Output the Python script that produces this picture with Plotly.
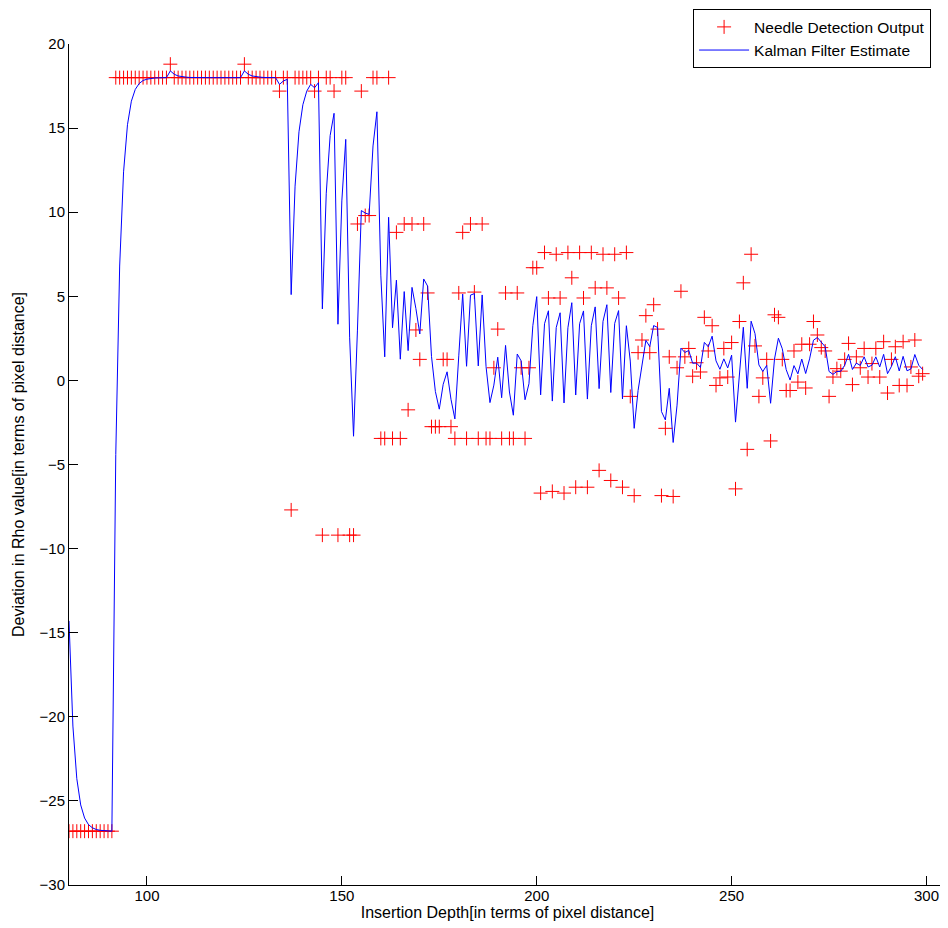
import plotly.graph_objects as go

# Insertion depth (pixel distance), one sample per integer step
depth = list(range(80, 300))

# Needle detection output (measurements)
needle = [
    -26.8, -26.8, -26.8, -26.8, -26.8, -26.8, -26.8, -26.8, -26.8, -26.8, -26.8, -26.8,  # 80-91
    18, 18, 18, 18, 18, 18, 18, 18, 18, 18, 18, 18, 18, 18,  # 92-105
    18.8,  # 106
    18, 18, 18, 18, 18, 18, 18, 18, 18, 18, 18, 18, 18, 18, 18, 18, 18, 18,  # 107-124
    18.8,  # 125
    18, 18, 18, 18, 18, 18, 18, 18,  # 126-133
    17.2, 18, 18, -7.7, 18, 18, 18, 18, 18, 17.2,  # 134-143
    18, -9.2, 18, 18, 17.2, -9.2, 18, 18, -9.2, -9.2,  # 144-153
    9.3, 17.2, 9.8, 9.8, 18, 18, -3.45, -3.45, 18, -3.45,  # 154-163
    8.8, -3.45, 9.3, -1.75, 9.3, 3.0, 1.25, 9.3, 5.2, -2.75,  # 164-173
    -2.75, -2.75, 1.25, 1.25, -2.75, -3.45, 5.2, 8.8, -3.45, 9.3,  # 174-183
    5.25, -3.45, 9.3, -3.45, -3.45, 0.75, 3.05, -3.45, 5.2, -3.45,  # 184-193
    -3.45, 5.2, 0.75, -3.45, 0.75, 6.7, 6.7, -6.7, 7.6, 4.9,  # 194-203
    -6.6, 7.5, 4.9, -6.7, 7.6, 6.1, -6.35, 7.6, 4.9, -6.35,  # 204-213
    7.6, 5.5, -5.35, 7.5, 5.5, -5.95, 7.5, 4.9, -6.35, 7.6,  # 214-223
    -0.95, -6.85, 1.65, 2.4, 3.85, 1.65, 4.5, 3.05, -6.85, -2.85,  # 224-233
    1.4, -6.9, 0.75, 5.3, 1.4, 1.9, 0.25, 1.05, 0.5, 3.75,  # 234-243
    1.75, 3.25, -0.3, 0.15, 1.9, 0.2, 2.25, -6.45, 3.5, 5.8,  # 244-253
    -4.1, 7.5, 2.05, -0.95, 0.15, 1.25, -3.6, 3.9, 3.75, 1.25,  # 254-263
    -0.6, -0.6, 1.75, -0.1, 2.15, -0.45, 2.15, 3.5, 2.7, 1.95,  # 264-273
    1.75, -0.95, 0.2, 0.7, 0.55, 1.25, 2.2, -0.25, 1.4, 0.75,  # 274-283
    1.9, 0.2, 1.0, 1.9, 0.2, 2.3, -0.75, 1.25, 2.0, -0.3,  # 284-293
    2.3, -0.3, 0.8, 2.4, 0.25, 0.4,  # 294-299
]

# Kalman filter estimate
kalman = [
    -14.3, -20.55, -23.68, -25.24, -26.02, -26.41, -26.6, -26.7, -26.75, -26.78,  # 80-89
    -26.79, -26.8, -4.4, 6.8, 12.4, 15.2, 16.6, 17.3, 17.65, 17.83,  # 90-99
    17.91, 17.96, 17.98, 17.99, 18.0, 18.0, 18.4, 18.2, 18.1, 18.05,  # 100-109
    18.03, 18.01, 18.0, 18.0, 18.0, 18.0, 18.0, 18.0, 18.0, 18.0,  # 110-119
    18.0, 18.0, 18.0, 18.0, 18.0, 18.4, 18.2, 18.1, 18.05, 18.03,  # 120-129
    18.01, 18.0, 18.0, 18.0, 17.6, 17.8, 17.9, 5.1, 11.55, 14.78,  # 130-139
    16.39, 17.2, 17.6, 17.4, 17.7, 4.25, 11.13, 14.56, 15.88, 3.34,  # 140-149
    10.67, 14.33, 2.57, -3.32, 2.99, 10.1, 9.95, 9.87, 13.94, 15.97,  # 150-159
    6.26, 1.4, 9.7, 3.13, 5.96, 1.26, 5.28, 1.77, 5.53, 4.27,  # 160-169
    2.76, 6.03, 5.61, 1.43, -0.66, -1.71, -0.23, 0.51, -1.12, -2.29,  # 170-179
    1.46, 5.13, 0.84, 5.07, 5.16, 0.86, 5.08, 0.82, -1.32, -0.28,  # 180-189
    1.38, -1.03, 2.08, -0.69, -2.07, 1.57, 1.16, -1.15, -0.2, 3.25,  # 190-199
    4.98, -0.86, 3.37, 4.14, -1.23, 3.14, 4.02, -1.34, 3.13, 4.62,  # 200-209
    -0.87, 3.37, 4.13, -1.11, 3.25, 4.37, -0.49, 3.51, 4.5, -0.72,  # 210-219
    3.39, 4.15, -1.1, 3.25, 1.15, -2.85, -0.6, 0.9, 2.38, 2.01,  # 220-229
    3.26, 3.15, -1.85, -2.35, -0.47, -3.69, -1.47, 1.92, 1.66, 1.78,  # 230-239
    1.02, 1.03, 0.77, 2.26, 2.0, 2.63, 1.16, 0.66, 1.28, 0.74,  # 240-249
    1.5, -2.48, 0.51, 3.16, -0.47, 3.52, 2.78, 0.92, 0.53, 0.89,  # 250-259
    -1.36, 1.27, 2.51, 1.88, 0.64, 0.02, 0.88, 0.39, 1.27, 0.41,  # 260-269
    1.28, 2.39, 2.55, 2.25, 2.0, 0.53, 0.36, 0.53, 0.54, 0.9,  # 270-279
    1.55, 0.65, 1.03, 0.89, 1.4, 0.8, 0.9, 1.4, 0.8, 1.55,  # 280-289
    0.4, 0.83, 1.41, 0.56, 1.43, 0.57, 0.68, 1.54, 0.9, 0.65,  # 290-299
]

x_ticks = [100, 150, 200, 250, 300]
y_ticks = [-30, -25, -20, -15, -10, -5, 0, 5, 10, 15, 20]

FONT = "Liberation Sans, Arial, Helvetica, sans-serif"

fig = go.Figure()
fig.add_trace(go.Scatter(
    x=depth, y=needle, mode="markers", name="Needle Detection Output",
    marker=dict(symbol="cross-thin", size=10, color="#ff0000",
                line=dict(color="#ff0000", width=1)),
))
fig.add_trace(go.Scatter(
    x=depth, y=kalman, mode="lines", name="Kalman Filter Estimate",
    line=dict(color="#0000ff", width=1),
))

axis_common = dict(
    showline=True, linecolor="black", linewidth=1, mirror=False,
    ticks="inside", ticklen=9, tickwidth=1, tickcolor="black",
    showgrid=False, zeroline=False, automargin=False,
    tickfont=dict(family=FONT, size=15, color="black"),
)

fig.update_layout(
    width=940, height=920,
    margin=dict(l=61, r=2, t=35, b=43),
    paper_bgcolor="white", plot_bgcolor="white",
    font=dict(family=FONT, size=15, color="black"),
    xaxis=dict(range=[80, 305], tickvals=x_ticks, ticklabelstandoff=-3,
               title=dict(text="Insertion Depth[in terms of pixel distance]",
                          font=dict(family=FONT, size=16), standoff=2),
               **axis_common),
    yaxis=dict(range=[-30, 20], tickvals=y_ticks,
               title=dict(text="Deviation in Rho value[in terms of pixel distance]",
                          font=dict(family=FONT, size=16), standoff=10),
               **axis_common),
    legend=dict(x=0.983, y=1.04, xanchor="right", yanchor="top",
                bgcolor="white", bordercolor="black", borderwidth=1,
                itemwidth=50,
                font=dict(family=FONT, size=15.5, color="black")),
    showlegend=True,
)

fig.write_html("out.html")
